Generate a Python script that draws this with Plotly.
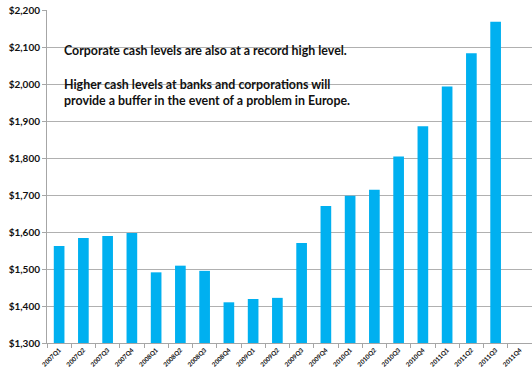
import plotly.graph_objects as go

quarters = [
    "2007Q1", "2007Q2", "2007Q3", "2007Q4",
    "2008Q1", "2008Q2", "2008Q3", "2008Q4",
    "2009Q1", "2009Q2", "2009Q3", "2009Q4",
    "2010Q1", "2010Q2", "2010Q3", "2010Q4",
    "2011Q1", "2011Q2", "2011Q3", "2011Q4",
]
cash_levels = [
    1562, 1584, 1589, 1597,
    1491, 1509, 1495, 1410,
    1419, 1422, 1570, 1670,
    1698, 1714, 1804, 1886,
    1993, 2083, 2168, None,
]

axis_floor = 1300
y_ticks = list(range(1300, 2201, 100))
y_tick_text = [f"${v:,}" for v in y_ticks]

notes = [
    "Corporate cash levels are also at a record high level.",
    "Higher cash levels at banks and corporations will<br>provide a buffer in the event of a problem in Europe.",
]

font_family = "Lato, 'Open Sans', sans-serif"

fig = go.Figure()
fig.add_trace(
    go.Bar(
        x=quarters,
        y=[None if v is None else v - axis_floor for v in cash_levels],
        base=axis_floor,
        marker=dict(color="#00B0F0", line=dict(width=0)),
    )
)

fig.add_annotation(
    x=0.031, y=2116, xref="paper", yref="y", text=f"<b>{notes[0]}</b>",
    showarrow=False, xanchor="left", yanchor="top", align="left",
    font=dict(size=12.4, color="#111111", family=font_family),
)
fig.add_annotation(
    x=0.031, y=2024, xref="paper", yref="y", text=f"<b>{notes[1]}</b>",
    showarrow=False, xanchor="left", yanchor="top", align="left",
    font=dict(size=12.4, color="#111111", family=font_family),
)

fig.update_layout(
    width=532,
    height=374,
    margin=dict(l=47, r=0, t=10, b=31),
    paper_bgcolor="white",
    plot_bgcolor="white",
    bargap=0.56,
    showlegend=False,
    hovermode=False,
    font=dict(family=font_family, color="#111111"),
)
fig.update_xaxes(
    type="category",
    categoryorder="array",
    categoryarray=quarters,
    tickangle=-45,
    ticktext=[f"<b>{q}</b>" for q in quarters],
    tickvals=quarters,
    tickfont=dict(size=6.3, family=font_family),
    tickson="boundaries",
    ticks="outside",
    ticklen=4,
    tickcolor="#A6A6A6",
    showline=True,
    linecolor="#A6A6A6",
    showgrid=False,
    automargin=False,
)
fig.update_yaxes(
    range=[1300, 2200],
    tickvals=y_ticks,
    ticktext=[f"<b>{t}</b>" for t in y_tick_text],
    tickfont=dict(size=10, family=font_family),
    ticks="outside",
    ticklen=4,
    tickcolor="#A6A6A6",
    showline=True,
    linecolor="#A6A6A6",
    showgrid=True,
    gridcolor="#B0B0B0",
    gridwidth=1,
    zeroline=False,
    automargin=False,
)

fig.write_html(
    "out.html",
    config={"displayModeBar": False, "staticPlot": True},
    post_script="document.body.style.margin='0';",
)
